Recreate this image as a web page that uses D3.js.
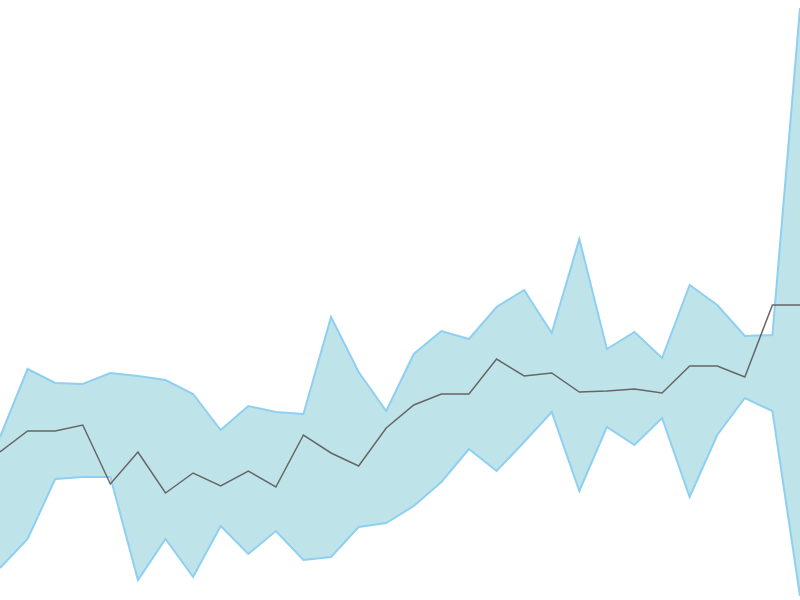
<!DOCTYPE html>
<html><head><meta charset="utf-8">
<script src="https://cdn.jsdelivr.net/npm/d3@7"></script>
<style>html,body{margin:0;padding:0;background:#fff;}svg{display:block;}</style>
</head><body>
<svg id="c" width="800" height="600"></svg>
<script>
const idx = d3.range(30);
const upper = [163,231,217,216,227,224,220,206,170,194,188,186,283,228,189,246,269,261,293,310,267,361,251,268,242,315,295,264,265,592];
const middle = [148,169,169,175,116,148,107,127,114,129,113,165,147,134,172,195,206,206,241,224,227,208,209,211,207,234,234,223,295,295];
const lower = [32,61,121,123,123,20,61,23,74,46,69,40,43,73,77,94,118,151,129,158,188,109,173,155,182,103,165,202,189,4];

const W = 800, H = 600;
const x = d3.scaleLinear().domain([0, idx.length - 1]).range([0, W]);
const y = d3.scaleLinear().domain([0, 600]).range([H, 0]);
const svg = d3.select('#c');
const data = idx.map(i => ({i, u: upper[i], m: middle[i], l: lower[i]}));

svg.append('path').datum(data)
  .attr('fill', '#bee4e9')
  .attr('d', d3.area().x(d => x(d.i)).y0(d => y(d.l)).y1(d => y(d.u)));
svg.append('path').datum(data)
  .attr('fill', 'none').attr('stroke', '#8ecff2').attr('stroke-width', 2)
  .attr('d', d3.line().x(d => x(d.i)).y(d => y(d.u)));
svg.append('path').datum(data)
  .attr('fill', 'none').attr('stroke', '#8ecff2').attr('stroke-width', 2)
  .attr('d', d3.line().x(d => x(d.i)).y(d => y(d.l)));
svg.append('path').datum(data)
  .attr('fill', 'none').attr('stroke', '#666666').attr('stroke-width', 1.5)
  .attr('d', d3.line().x(d => x(d.i)).y(d => y(d.m)));
</script>
</body></html>
